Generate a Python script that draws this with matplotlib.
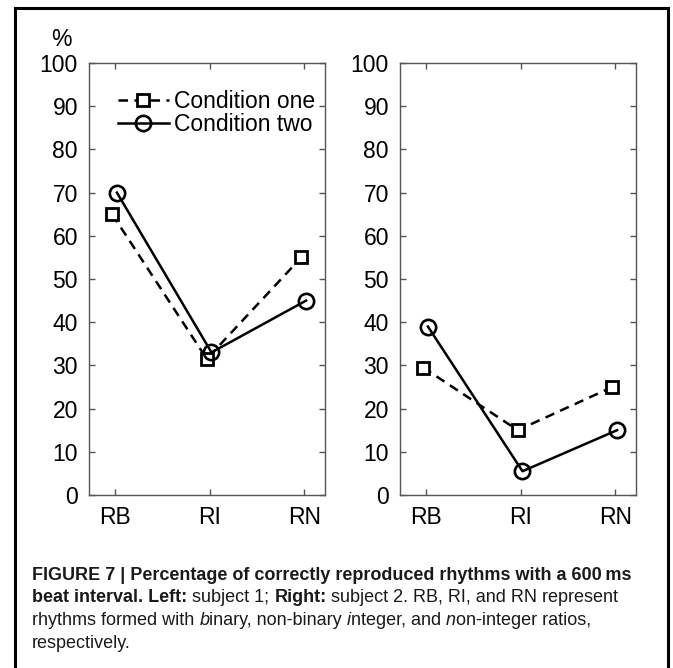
import matplotlib
matplotlib.use("Agg")
import matplotlib.pyplot as plt
from matplotlib.lines import Line2D
from matplotlib.patches import Rectangle

categories = ["RB", "RI", "RN"]
yticks = [0, 10, 20, 30, 40, 50, 60, 70, 80, 90, 100]
left_one = [65, 31.5, 55]
left_two = [70, 33, 45]
right_one = [29.5, 15, 25]
right_two = [39, 5.5, 15]
legend_labels = ["Condition one", "Condition two"]

FONT = ["Liberation Sans", "DejaVu Sans"]
CAPFONT = ["Liberation Sans", "DejaVu Sans"]

W, H = 673, 668
fig = plt.figure(figsize=(W / 100, H / 100), dpi=100)

# outer frame
fig.patches.append(Rectangle((15 / W, -0.02), (668 - 15) / W, 1 - 8 / H + 0.02,
                             transform=fig.transFigure, fill=False,
                             edgecolor="black", linewidth=2.2))

spine_color = "#555555"
DASH = (0, (3.8, 2.6))
TICK_SIZE = 16.5


def make_ax(x0px, one, two):
    ax = fig.add_axes([x0px / W, 1 - 495 / H, 236 / W, (495 - 63) / H])
    xs = list(range(1, len(categories) + 1))
    ax.plot([x - 0.03 for x in xs], one, linestyle=DASH, color="black",
            linewidth=1.8, marker="s", markersize=9, markerfacecolor="white",
            markeredgecolor="black", markeredgewidth=2.0)
    ax.plot([x + 0.02 for x in xs], two, linestyle="-", color="black",
            linewidth=1.8, marker="o", markersize=11, markerfacecolor="none",
            markeredgecolor="black", markeredgewidth=1.9)
    ax.set_xlim(0.725, 3.22)
    ax.set_ylim(0, 100)
    ax.set_xticks(xs)
    ax.set_xticklabels(categories)
    ax.set_yticks(yticks)
    ax.set_yticklabels([str(v) for v in yticks])
    ax.tick_params(direction="in", length=4, width=1, color=spine_color,
                   top=True, right=True, labelsize=TICK_SIZE, pad=8)
    for lab in ax.get_xticklabels() + ax.get_yticklabels():
        lab.set_family(FONT)
    for s in ax.spines.values():
        s.set_color(spine_color)
        s.set_linewidth(1.0)
    return ax


axL = make_ax(89, left_one, left_two)
axR = make_ax(400, right_one, right_two)

handles = [
    Line2D([], [], linestyle=DASH, color="black", linewidth=1.8,
           marker="s", markersize=9, markerfacecolor="white",
           markeredgewidth=2.0),
    Line2D([], [], linestyle="-", color="black", linewidth=1.8,
           marker="o", markersize=11, markerfacecolor="none",
           markeredgewidth=1.9),
]
axL.legend(handles, legend_labels, loc="upper right", frameon=False,
           prop={"family": FONT, "size": TICK_SIZE}, handlelength=2.2,
           handletextpad=0.22, labelspacing=0.02, borderaxespad=0.0,
           borderpad=0.0, bbox_to_anchor=(0.957, 0.938))

fig.text(61 / W, 1 - 40 / H, "%", ha="center", va="center",
         fontsize=TICK_SIZE, family=FONT)

# caption with mixed styles
lines = [
    [("FIGURE 7 | Percentage of correctly reproduced rhythms with a 600\u2009ms", "bold", "normal")],
    [("beat interval. Left:", "bold", "normal"), (" subject 1; ", "normal", "normal"),
     ("Right:", "bold", "normal"), (" subject 2. RB, RI, and RN represent", "normal", "normal")],
    [("rhythms formed with ", "normal", "normal"), ("b", "normal", "italic"),
     ("inary, non-binary ", "normal", "normal"), ("i", "normal", "italic"),
     ("nteger, and ", "normal", "normal"), ("n", "normal", "italic"),
     ("on-integer ratios,", "normal", "normal")],
    [("respectively.", "normal", "normal")],
]
cap_size = 13
x_start = 32
y_first = 580
line_gap = 22.5
renderer = fig.canvas.get_renderer()
for i, parts in enumerate(lines):
    x = x_start
    y = 1 - (y_first + i * line_gap) / H
    for txt, wt, st in parts:
        t = fig.text(x / W, y, txt, fontsize=cap_size, fontweight=wt,
                     fontstyle=st, family=CAPFONT, color="#1a1a1a",
                     va="baseline", ha="left")
        bb = t.get_window_extent(renderer=renderer)
        x += bb.width

fig.savefig("out.png", dpi=100)
